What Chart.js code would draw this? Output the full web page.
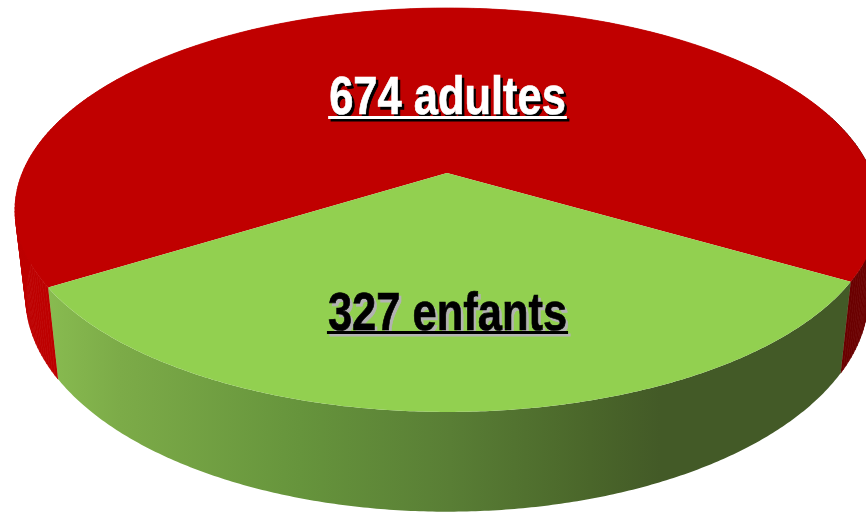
<!DOCTYPE html>
<html>
<head>
<meta charset="utf-8">
<style>
  html, body { margin: 0; padding: 0; background: #fff; overflow: hidden; }
  canvas { display: block; }
</style>
<script src="https://cdn.jsdelivr.net/npm/chart.js@4"></script>
</head>
<body>
<canvas id="chart" width="866" height="512"></canvas>
<script>
const categories = ["adultes", "enfants"];
const counts = [674, 327];
const topColors = ["#c00000", "#92d050"];

// where the circle of the pie lands on the page (tilted view)
const apexX = 447, apexY = 173;
const tiltY = -0.183;
const scaleX = 432 * Math.sqrt(1 - tiltY * tiltY), scaleY = 195.2;

const toPage = (angle) => {
  const u = Math.cos(angle), v = Math.sin(angle);
  const w = 1 + tiltY * v;
  return { x: apexX + scaleX * u / w, y: apexY + scaleY * v / w };
};
// rim of the bottom face, seen from the top rim
const toBottom = (p) => ({ x: apexX + 0.975 * (p.x - apexX), y: 1.065 * p.y + 73 });

const wallGradient = (ctx, stops) => {
  const g = ctx.createLinearGradient(0, 0, 866, 0);
  stops.forEach((s) => g.addColorStop(s[0] / 866, s[1]));
  return g;
};

const rimPoints = (arc) => {
  const steps = 240;
  const rim = [];
  for (let i = 0; i <= steps; i++) {
    rim.push(toPage(arc.startAngle + (arc.endAngle - arc.startAngle) * i / steps));
  }
  return rim;
};

// red goes round the back, so it needs every quad or the sides leave a gap
const drawBackWall = (ctx, arc, fill) => {
  const rim = rimPoints(arc);
  ctx.fillStyle = fill;
  ctx.strokeStyle = fill;
  ctx.lineWidth = 0.7;
  for (let i = 0; i < rim.length - 1; i++) {
    const q0 = toBottom(rim[i]), q1 = toBottom(rim[i + 1]);
    ctx.beginPath();
    ctx.moveTo(rim[i].x, rim[i].y);
    ctx.lineTo(rim[i + 1].x, rim[i + 1].y);
    ctx.lineTo(q1.x, q1.y);
    ctx.lineTo(q0.x, q0.y);
    ctx.closePath();
    ctx.fill();
    ctx.stroke();
  }
};

const drawFrontWall = (ctx, arc, fill) => {
  const rim = rimPoints(arc);
  ctx.beginPath();
  rim.forEach((p, i) => (i ? ctx.lineTo(p.x, p.y) : ctx.moveTo(p.x, p.y)));
  rim.slice().reverse().map(toBottom).forEach((p) => ctx.lineTo(p.x, p.y));
  ctx.closePath();
  ctx.fillStyle = fill;
  ctx.fill();
};

const drawTop = (ctx, arc, fill) => {
  ctx.beginPath();
  ctx.moveTo(apexX, apexY);
  rimPoints(arc).forEach((p) => ctx.lineTo(p.x, p.y));
  ctx.closePath();
  ctx.fillStyle = fill;
  ctx.fill();
};

const drawLabel = (ctx, text, baseline, underlineY, color, shadow) => {
  const narrow = 0.82;
  ctx.font = "bold 53px 'Liberation Sans'";
  ctx.textAlign = "center";
  ctx.textBaseline = "alphabetic";
  const w = ctx.measureText(text).width;
  [[2.5, 2.5, shadow], [0, 0, color]].forEach((l) => {
    ctx.save();
    ctx.translate(447.5 + l[0], baseline + l[1]);
    ctx.scale(narrow, 1);
    ctx.fillStyle = l[2];
    ctx.strokeStyle = l[2];
    ctx.lineWidth = 0.7;
    ctx.fillText(text, 0, 0);
    ctx.strokeText(text, 0, 0);
    ctx.restore();
    ctx.fillStyle = l[2];
    ctx.fillRect(447.5 - w * narrow / 2 + l[0] - 1, underlineY + l[1], w * narrow + 2, 3);
  });
};

const pie3d = {
  id: "pie3d",
  beforeDatasetsDraw(chart) {
    const ctx = chart.ctx;
    const arcs = chart.getDatasetMeta(0).data;
    ctx.save();
    drawBackWall(ctx, arcs[0], wallGradient(ctx, [[0, "#bd0000"], [815, "#bd0000"], [835, "#6a0000"], [866, "#6a0000"]]));
    drawFrontWall(ctx, arcs[1], wallGradient(ctx, [[48, "#88bb50"], [120, "#7cab48"], [300, "#66943c"], [450, "#597e35"], [590, "#4a662a"], [660, "#435a27"], [866, "#435a27"]]));
    arcs.forEach((arc, i) => drawTop(ctx, arc, topColors[i]));
    drawLabel(ctx, counts[0] + " " + categories[0], 114, 116, "#ffffff", "#000000");
    drawLabel(ctx, counts[1] + " " + categories[1], 330, 331, "#000000", "#b3b3b3");
    ctx.restore();
    return false;
  },
};

new Chart(document.getElementById("chart"), {
  type: "pie",
  data: {
    labels: categories,
    datasets: [{ data: counts, backgroundColor: topColors, borderWidth: 0 }],
  },
  plugins: [pie3d],
  options: {
    responsive: false,
    animation: false,
    rotation: 238,
    layout: { padding: 0 },
    plugins: { legend: { display: false }, tooltip: { enabled: false } },
  },
});
</script>
</body>
</html>
